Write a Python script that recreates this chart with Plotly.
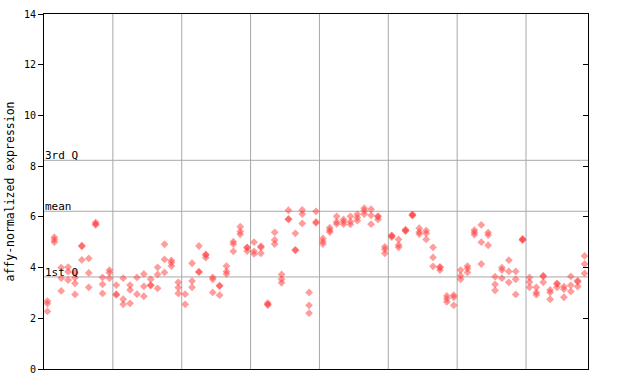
import plotly.graph_objects as go

# expression values per sample column (replicates)
columns = [
    [2.68, 2.58, 2.27], [5.2, 5.1, 5.0], [4.0, 3.58, 3.08], [4.02, 3.84, 3.51],
    [3.8, 3.6, 3.38, 2.94], [4.86, 4.84, 4.30], [4.36, 3.79, 3.22], [5.78, 5.72, 5.68],
    [3.61, 3.34, 2.98], [3.9, 3.8, 3.58],
    [3.31, 2.95, 2.92], [3.58, 2.75, 2.55], [3.31, 3.12, 2.59], [3.61, 2.95],
    [3.75, 3.26, 2.87], [3.54, 3.31, 3.29], [4.01, 3.73, 3.18], [4.92, 4.32, 3.81],
    [4.28, 4.19, 4.06], [3.42, 3.21, 2.98],
    [2.95, 2.55], [4.17, 3.47, 3.22], [4.85, 3.84, 3.82], [4.52, 4.5, 4.39],
    [3.61, 3.54, 3.02], [3.29, 3.27, 2.91], [4.06, 3.85, 3.75], [5.02, 4.93, 4.64],
    [5.61, 5.42, 5.31], [4.8, 4.78, 4.65],
    [5.0, 4.64, 4.54], [4.84, 4.80, 4.56], [2.6, 2.55, 2.52], [5.39, 5.09, 4.93],
    [3.73, 3.54, 3.40], [6.26, 5.92, 5.90], [5.35, 4.7, 4.68], [6.27, 6.11, 5.74],
    [3.02, 2.51, 2.2], [6.22, 5.8, 5.76],
    [5.15, 5.03, 4.93], [5.57, 5.48, 5.40], [6.02, 5.8, 5.72], [5.9, 5.81, 5.71],
    [6.02, 5.81, 5.70], [6.1, 5.97, 5.85], [6.34, 6.24, 6.11], [6.3, 6.06, 5.71],
    [6.03, 6.0, 5.9], [4.82, 4.72, 4.56],
    [5.27, 5.25, 5.2], [5.11, 4.89, 4.8], [5.5, 5.46, 5.44], [6.1, 6.07, 6.05],
    [5.55, 5.4, 5.32], [5.46, 5.35, 5.11], [4.8, 4.4, 4.05], [4.03, 4.0, 3.9],
    [2.88, 2.77, 2.65], [2.91, 2.83, 2.51],
    [3.9, 3.68, 3.54], [4.06, 3.96, 3.81], [5.48, 5.39, 5.30], [5.68, 5.0, 4.14],
    [5.38, 5.28, 4.88], [3.64, 3.34, 3.10], [4.0, 3.9, 3.58], [4.29, 3.85, 3.42],
    [3.85, 3.54, 2.94], [5.13, 5.11, 5.08],
    [3.61, 3.43, 3.22], [3.22, 3.02, 2.93], [3.68, 3.65, 3.42], [3.12, 3.02, 2.75],
    [3.38, 3.35, 3.22], [3.25, 3.15, 2.83], [3.65, 3.30, 3.06], [3.48, 3.44, 3.25],
    [4.46, 4.14, 3.77],
]
group_bounds = [10, 20, 30, 40, 50, 60, 70]
quartiles = {"1st Q": 3.63, "mean": 6.22, "3rd Q": 8.23}
y_ticks = [0, 2, 4, 6, 8, 10, 12, 14]

xs, ys = [], []
for i, col in enumerate(columns):
    for v in col:
        xs.append(i + 0.5)
        ys.append(v)

n_cols = len(columns)
fig = go.Figure()
fig.add_trace(go.Scatter(
    x=xs, y=ys, mode="markers",
    marker=dict(symbol="diamond", size=6, color="rgba(255,60,60,0.5)",
                line=dict(width=0)),
    showlegend=False, hoverinfo="y",
))
# invisible trace to enable right axis
fig.add_trace(go.Scatter(x=[None], y=[None], yaxis="y2", showlegend=False))

shapes = []
for b in group_bounds:
    shapes.append(dict(type="line", xref="x", yref="paper", x0=b, x1=b, y0=0, y1=1,
                       line=dict(color="#a8a8a8", width=1), layer="below"))
annotations = []
for name, v in quartiles.items():
    shapes.append(dict(type="line", xref="paper", yref="y", x0=0, x1=1, y0=v, y1=v,
                       line=dict(color="#a8a8a8", width=1), layer="below"))
    annotations.append(dict(x=0, xref="paper", y=v, yref="y", text=name, showarrow=False,
                            xanchor="left", yanchor="bottom", borderpad=0, yshift=-3,
                            font=dict(family="DejaVu Sans Mono", size=11, color="black")))

fig.update_layout(
    width=640, height=384,
    margin=dict(l=44, r=52, t=14, b=15, autoexpand=False),
    plot_bgcolor="white", paper_bgcolor="white",
    font=dict(family="DejaVu Sans Mono", size=10, color="black"),
    shapes=shapes, annotations=annotations,
    xaxis=dict(range=[0, n_cols], showgrid=False, zeroline=False, showticklabels=False,
               ticks="", showline=True, linecolor="black", linewidth=1, mirror=True,
               automargin=False),
    yaxis=dict(range=[0, 14], tickvals=y_ticks, ticks="outside", ticklen=5,
               tickcolor="black", showgrid=False, zeroline=False, showline=True,
               linecolor="black", linewidth=1, automargin=False,
               title=dict(text="affy-normalized expression",
                          font=dict(family="DejaVu Sans Mono", size=11.5), standoff=6)),
    yaxis2=dict(range=[0, 14], tickvals=y_ticks, overlaying="y", side="right",
                ticks="inside", ticklen=5, tickcolor="black", showticklabels=False,
                showgrid=False, zeroline=False, showline=True, linecolor="black",
                automargin=False),
)
fig.write_html("out.html")
